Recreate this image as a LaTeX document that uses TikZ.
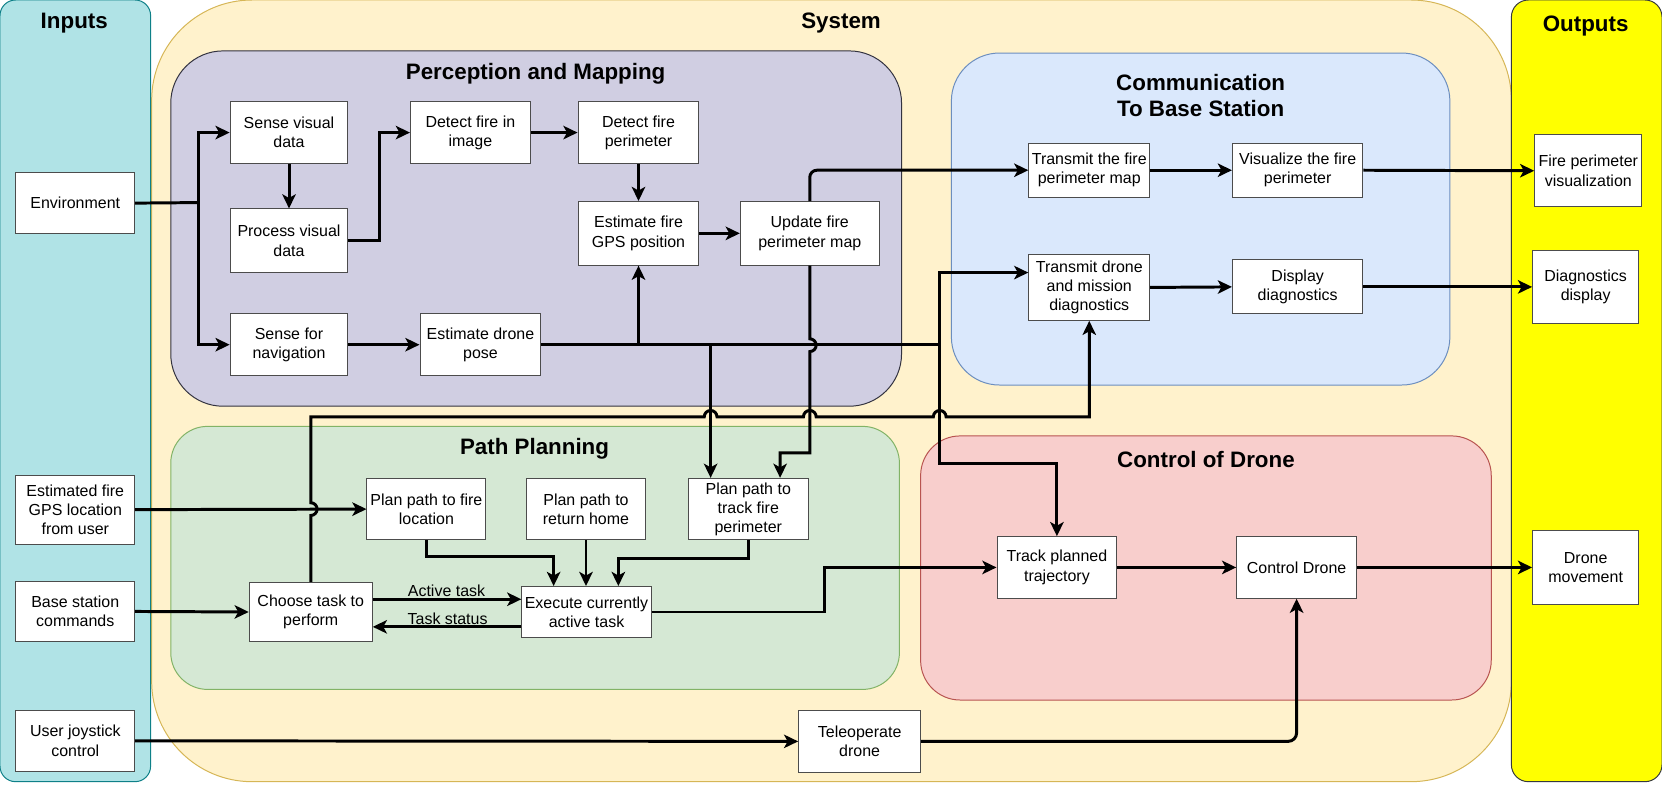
\documentclass[tikz,border=0pt]{standalone}
\usepackage{fontspec}
\setmainfont{Liberation Sans}
\usetikzlibrary{arrows.meta,calc}
\definecolor{inF}{HTML}{B0E3E6}\definecolor{inD}{HTML}{0E8088}
\definecolor{sysF}{HTML}{FFF2CC}\definecolor{sysD}{HTML}{D6B656}
\definecolor{outF}{HTML}{FFFF00}\definecolor{outD}{HTML}{36393D}
\definecolor{perF}{HTML}{D0CEE2}\definecolor{perD}{HTML}{333340}
\definecolor{comF}{HTML}{DAE8FC}\definecolor{comD}{HTML}{6C8EBF}
\definecolor{ppF}{HTML}{D5E8D4}\definecolor{ppD}{HTML}{82B366}
\definecolor{ctF}{HTML}{F8CECC}\definecolor{ctD}{HTML}{B85450}
\tikzset{
 panel/.style={line width=0.7pt},
 box/.style={draw=black!70, fill=white, line width=0.7pt, inner sep=0pt, align=center, font=\fontsize{11.3}{13.6}\selectfont},
 ttl/.style={font=\fontsize{15.8}{18.8}\selectfont\bfseries, align=center},
 conn/.style={line width=2.1pt},
 arr/.style={conn, -{Stealth[length=10pt,width=9.5pt,inset=2.6pt]}},
 lbl/.style={font=\fontsize{11.3}{13.6}\selectfont, inner sep=0pt}
}
\newcommand\bx[6]{\node[box,minimum width={(#4-#2)*0.75pt},minimum height={(#5-#3)*0.75pt}] (#1) at ({(#2+#4)/2},{(#3+#5)/2}) {#6};}
\begin{document}
\begin{tikzpicture}[x=0.75pt,y=-0.75pt]
\useasboundingbox (0,0) rectangle (1567,756.2);
% panels
\draw[panel, fill=sysF, draw=sysD, rounded corners=71pt] (143,0) rectangle (1425,737);
\draw[panel, fill=inF, draw=inD, rounded corners=11pt] (0,0) rectangle (142,737);
\draw[panel, fill=outF, draw=outD, rounded corners=12pt] (1425,0) rectangle (1567,737);
\draw[panel, fill=perF, draw=perD, rounded corners=37pt] (161,48) rectangle (850,383);
\draw[panel, fill=comF, draw=comD, rounded corners=34pt] (897,50) rectangle (1367,363);
\draw[panel, fill=ppF, draw=ppD, rounded corners=26pt] (161,402) rectangle (848,650);
\draw[panel, fill=ctF, draw=ctD, rounded corners=28pt] (868,411) rectangle (1406,660);
% titles
\node[ttl] (tIn) at (70,22) {Inputs};
\node[ttl] (tSys) at (793,22) {System};
\node[ttl] (tOut) at (1495,25) {Outputs};
\node[ttl] (tPer) at (505,70) {Perception and Mapping};
\node[ttl] (tCom) at (1132,90) {Communication\\To Base Station};
\node[ttl] (tPP) at (504,423) {Path Planning};
\node[ttl] (tCt) at (1137,433) {Control of Drone};
% boxes
\bx{env}{15}{163}{127}{220}{Environment}
\bx{efg}{15}{448}{127}{513}{Estimated fire\\GPS location\\from user}
\bx{bsc}{15}{548}{127}{605}{Base station\\commands}
\bx{ujc}{15}{670}{127}{727}{User joystick\\control}
\bx{svis}{217}{96}{328}{154}{Sense visual\\data}
\bx{pvis}{217}{197}{328}{257}{Process visual\\data}
\bx{snav}{217}{296}{328}{354}{Sense for\\navigation}
\bx{dfire}{387}{96}{500}{154}{Detect fire in\\image}
\bx{pose}{396}{296}{510}{354}{Estimate drone\\pose}
\bx{dper}{545}{96}{659}{154}{Detect fire\\perimeter}
\bx{egps}{545}{190}{659}{250}{Estimate fire\\GPS position}
\bx{upd}{698}{190}{829}{250}{Update fire\\perimeter map}
\bx{tfire}{970}{135}{1084}{186}{Transmit the fire\\perimeter map}
\bx{vis}{1162}{135}{1285}{186}{Visualize the fire\\perimeter}
\bx{fpv}{1447}{127}{1548}{195}{Fire perimeter\\visualization}
\bx{tdiag}{970}{240}{1084}{302}{Transmit drone\\and mission\\diagnostics}
\bx{ddiag}{1162}{245}{1285}{296}{Display\\diagnostics}
\bx{dd}{1445}{236}{1545}{305}{Diagnostics\\display}
\bx{pfire}{346}{451}{458}{509}{Plan path to fire\\location}
\bx{phome}{496}{451}{609}{509}{Plan path to\\return home}
\bx{ptrack}{649}{451}{762}{509}{Plan path to\\track fire\\perimeter}
\bx{choose}{235}{549}{351}{605}{Choose task to\\perform}
\bx{exec}{492}{553}{614}{601}{Execute currently\\active task}
\bx{track}{940}{506}{1053}{564}{Track planned\\trajectory}
\bx{ctrl}{1166}{506}{1279}{564}{Control Drone}
\bx{dmov}{1445}{500}{1545}{570}{Drone\\movement}
\bx{tele}{753}{670}{868}{728}{Teleoperate\\drone}
% junctions
\coordinate (jEnv) at (187,191);
\coordinate (jPv) at (358,227);
\coordinate (jA) at (602,325);
\coordinate (jB) at (670,325);
\coordinate (jC) at (886,325);
\coordinate (jD) at (886,437);
\coordinate (jE) at (777,577);
% connectors
\draw[conn] (env.east) -- (jEnv);
\draw[arr] (jEnv) |- (svis.west);
\draw[arr] (jEnv) |- (snav.west);
\draw[arr] (svis.south) -- (pvis.north);
\draw[arr] (pvis.east) -- (jPv) |- (dfire.west);
\draw[arr] (dfire.east) -- (dper.west);
\draw[arr] (dper.south) -- (egps.north);
\draw[arr] (egps.east) -- (upd.west);
\draw[arr, rounded corners=5pt] (upd.north) |- (tfire.west);
\draw[arr] (tfire.east) -- (vis.west);
\draw[arr] (vis.east) -- (fpv.west);
\draw[arr] (tdiag.east) -- (ddiag.west);
\draw[arr] (ddiag.east) -- (dd.west);
\draw[arr] (snav.east) -- (pose.west);
\draw[conn] (pose.east) -- (jC);
\draw[arr] (jA) -- (egps.south);
\draw[arr] (jB) -- (ptrack.north -| jB);
\draw[arr] (jC) |- (tdiag.west |- 0,257);
\draw[arr] (jC) -- (jD) -| (track.north);
\draw[arr] (upd.south) -- ++(0,69) arc[start angle=-90,end angle=90,radius=6] -- (763.5,427) -- (735.5,427) -- (ptrack.north -| 735.5,0);
\draw[arr] (choose.north) -- (293,486) arc[start angle=90,end angle=-90,radius=6] -- (293,393) -- (664,393) arc[start angle=180,end angle=360,radius=6] -- (757.5,393) arc[start angle=180,end angle=360,radius=6] -- (880,393) arc[start angle=180,end angle=360,radius=6] -- (1027,393) -- (tdiag.south);
\draw[arr] (efg.east) -- (pfire.west);
\draw[arr] (bsc.east) -- (choose.west);
\draw[arr] (pfire.south) |- (522,525) -- (exec.north -| 522,0);
\draw[arr] (phome.south) -- (exec.north -| phome.south);
\draw[arr] (ptrack.south) |- (583,527) -- (exec.north -| 583,0);
\draw[arr] (choose.east |- 0,565) -- (exec.west |- 0,565);
\node[lbl] (lAct) at (421,557) {Active task};
\draw[arr] (exec.west |- 0,591) -- (choose.east |- 0,591);
\node[lbl] (lSt) at (422,583) {Task status};
\draw[arr] (exec.east) -- (jE) |- (track.west);
\draw[arr] (track.east) -- (ctrl.west);
\draw[arr] (ctrl.east) -- (dmov.west);
\draw[arr] (ujc.east) -- (tele.west);
\draw[arr, rounded corners=6pt] (tele.east) -| (ctrl.south);
\end{tikzpicture}
\end{document}
